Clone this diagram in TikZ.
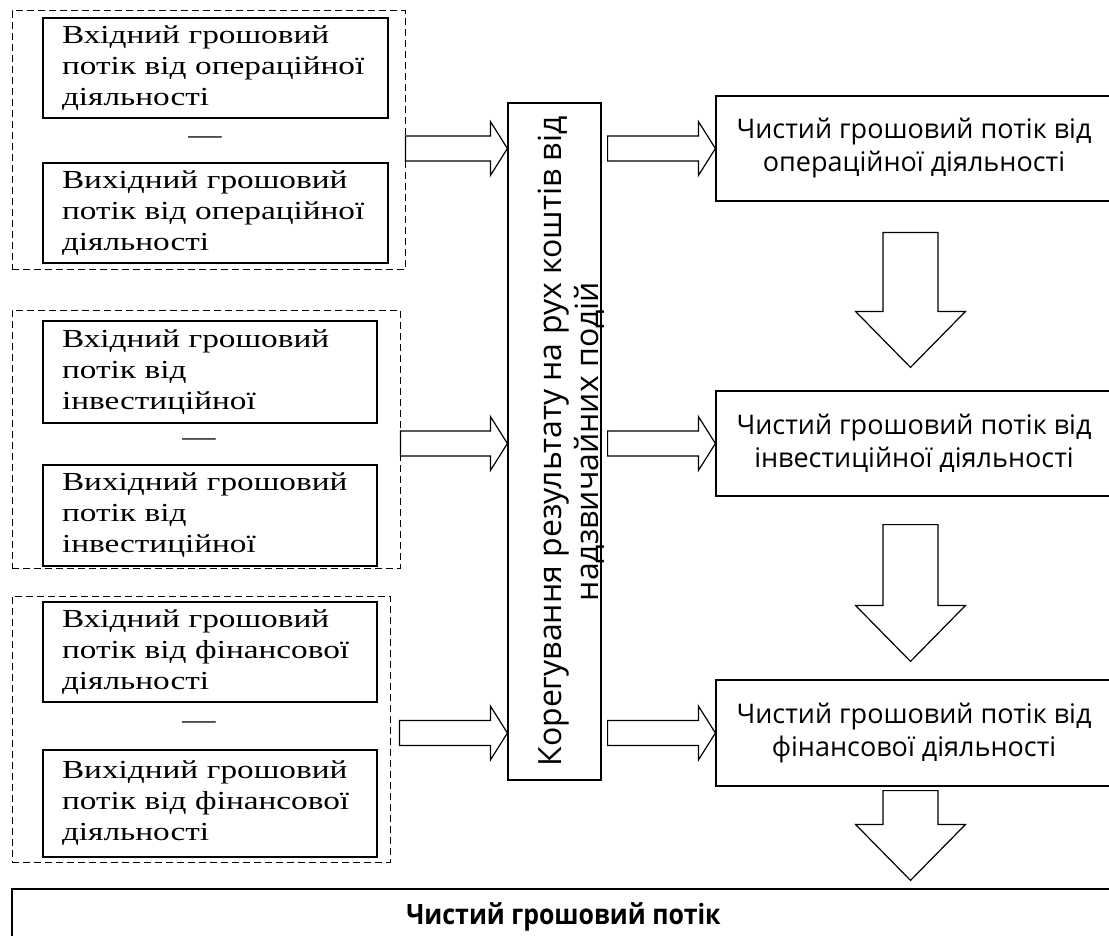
\documentclass[tikz,border=0pt]{standalone}
\usepackage{fontspec}
\setmainfont{Liberation Serif}
\newfontfamily\widetimes[FakeStretch=1.28]{Liberation Serif}
\newfontfamily\gothic{Open Sans}
\newfontfamily\gothiccond[FakeStretch=0.89]{Open Sans}
\usetikzlibrary{calc}

% hollow block arrows between two points
\newcommand{\fatright}[2]{%
  \draw[fatarrow] let \p1=(#1), \p2=(#2) in
    (\x1,\y1+12.5pt) -- (\x2-17pt,\y1+12.5pt) -- (\x2-17pt,\y1+27pt) -- (\x2,\y1)
    -- (\x2-17pt,\y1-27pt) -- (\x2-17pt,\y1-12.5pt) -- (\x1,\y1-12.5pt) -- cycle;}
\newcommand{\fatdown}[2]{%
  \draw[fatarrow] let \p1=(#1), \p2=(#2) in
    (\x1-27.5pt,\y1) -- (\x1-27.5pt,\y2+56pt) -- (\x1-55pt,\y2+56pt) -- (\x1,\y2)
    -- (\x1+55pt,\y2+56pt) -- (\x1+27.5pt,\y2+56pt) -- (\x1+27.5pt,\y1) -- cycle;}

\begin{document}
\begin{tikzpicture}[x=1pt, y=-1pt, line width=1.2pt,
	dashgroup/.style={draw, dash pattern=on 7pt off 4pt, line width=1pt, inner sep=0pt},
	flowbox/.style={draw, inner xsep=19pt, inner ysep=0pt, align=left, font=\widetimes\fontsize{26}{31}\selectfont},
	minussign/.style={inner sep=0pt, font=\widetimes\fontsize{26}{31}\selectfont},
	adjbox/.style={draw, rotate=90, inner sep=0pt, font=\gothic\fontsize{32}{37}\selectfont},
	netbox/.style={draw, align=center, inner sep=0pt, minimum width=396pt, minimum height=105pt, font=\gothic\fontsize{27}{33}\selectfont},
	totalbox/.style={draw, inner sep=0pt, font=\gothiccond\bfseries\fontsize{28}{32}\selectfont},
	fatarrow/.style={draw, line width=1.2pt, fill=white}]
	\clip (0,0) rectangle (1109,936);

	% operating activity
	\node[dashgroup, minimum width=393pt, minimum height=259pt] (opgroup) at (208.5,140.5) {};
	\node[flowbox, text width=307pt, minimum height=100pt] (opin) at (215.5,68) {Вхідний грошовий\\потік від операційної\\діяльності};
	\node[minussign] (opminus) at (205,140) {—};
	\node[flowbox, text width=307pt, minimum height=100pt] (opout) at (215.5,213) {Вихідний грошовий\\потік від операційної\\діяльності};

	% investing activity
	\node[dashgroup, minimum width=388pt, minimum height=258pt] (invgroup) at (206,439) {};
	\node[flowbox, text width=296pt, minimum height=102pt] (invin) at (210,372) {Вхідний грошовий\\потік від\\інвестиційної};
	\node[minussign] (invminus) at (199,442) {—};
	\node[flowbox, text width=296pt, minimum height=101pt] (invout) at (210,515.5) {Вихідний грошовий\\потік від\\інвестиційної};

	% financing activity
	\node[dashgroup, minimum width=378pt, minimum height=266pt] (fingroup) at (201,729) {};
	\node[flowbox, text width=296pt, minimum height=100pt] (finin) at (210,652) {Вхідний грошовий\\потік від фінансової\\діяльності};
	\node[minussign] (finminus) at (199,725) {—};
	\node[flowbox, text width=296pt, minimum height=107pt] (finout) at (210,803.5) {Вихідний грошовий\\потік від фінансової\\діяльності};

	% rotated box: local north is the left side, local south the right side
	\node[adjbox, minimum width=677pt, minimum height=93pt] (adjust) at (554.5,441.5) {\raisebox{-7pt}[0pt][0pt]{\begin{tabular}[t]{@{}c@{}}Корегування результату на рух коштів від\\надзвичайних подій\end{tabular}}};

	\node[netbox] (opnet) at (914,148.5) {Чистий грошовий потік від\\операційної діяльності};
	\node[netbox] (invnet) at (914,443.5) {Чистий грошовий потік від\\інвестиційної діяльності};
	\node[netbox, minimum height=106pt] (finnet) at (914,733) {Чистий грошовий потік від\\фінансової діяльності};

	\node[totalbox, minimum width=1103pt, minimum height=56pt] (total) at (563.5,917) {Чистий грошовий потік};

	\fatright{opgroup.east |- opnet}{adjust.north |- opnet}
	\fatright{invgroup.east |- invnet}{adjust.north |- invnet}
	\fatright{$(fingroup.east |- finnet)+(9,0)$}{adjust.north |- finnet}
	\fatright{$(adjust.south |- opnet)+(6,0)$}{opnet.west}
	\fatright{$(adjust.south |- invnet)+(6,0)$}{invnet.west}
	\fatright{$(adjust.south |- finnet)+(6,0)$}{finnet.west}

	\fatdown{$(opnet.south)+(-3.5,31)$}{$(invnet.north)+(-3.5,-23)$}
	\fatdown{$(invnet.south)+(-3.5,28)$}{$(finnet.north)+(-3.5,-18)$}
	\fatdown{$(finnet.south)+(-3.5,4)$}{$(total.north)+(-3.5,-8)$}
\end{tikzpicture}
\end{document}
